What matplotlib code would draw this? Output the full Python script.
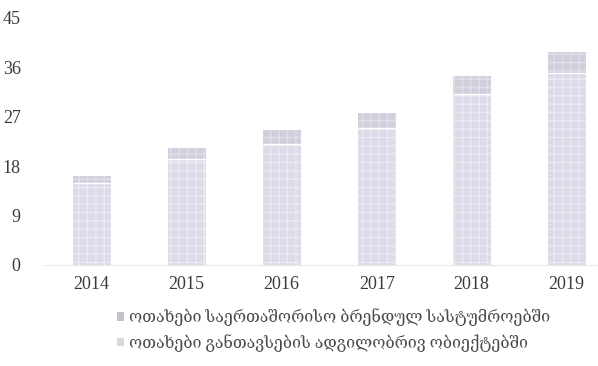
import matplotlib.pyplot as plt
from matplotlib.patches import Patch
import numpy as np

# data
years = ['2014', '2015', '2016', '2017', '2018', '2019']
local_rooms = [15.0, 19.3, 22.1, 24.9, 31.2, 35.0]
brand_rooms = [1.2, 2.0, 2.5, 2.8, 3.2, 3.8]
y_ticks = [0, 9, 18, 27, 36, 45]
label_brand = 'ოთახები საერთაშორისო ბრენდულ სასტუმროებში'
label_local = 'ოთახები განთავსების ადგილობრივ ობიექტებში'

serif = ['Liberation Serif', 'DejaVu Serif', 'DejaVu Sans']

fig = plt.figure(figsize=(5.98, 3.66), dpi=100)
ax = fig.add_axes([0.074, 0.276, 0.926, 0.675])

x = np.arange(len(years))
col_local = '#dcdbe9'
col_brand = '#d0cfdc'
ax.bar(x, local_rooms, width=0.4, color=col_local, edgecolor='#ebeaf3',
       hatch='++', linewidth=0)
ax.bar(x, brand_rooms, width=0.4, bottom=local_rooms, color=col_brand,
       edgecolor='#e0dfe9', hatch='++', linewidth=0)
# thin white gap between the two segments
ax.hlines(local_rooms, x - 0.2, x + 0.2, colors='white', linewidth=1.0)

ax.set_xlim(-0.5, 5.33)
ax.set_ylim(0, 45)
ax.set_yticks(y_ticks)
ax.set_xticks(x)
ax.set_xticklabels(years)
for sp in ['top', 'right', 'left']:
    ax.spines[sp].set_visible(False)
ax.spines['bottom'].set_color('#e8e8e8')
ax.tick_params(length=0, labelsize=13, labelcolor='#3a3a3a', pad=8)
for lab in ax.get_xticklabels() + ax.get_yticklabels():
    lab.set_family(serif)
ax.tick_params(axis='y', pad=17)

handles = [Patch(facecolor='#c2c2ca'), Patch(facecolor='#d8d8de')]
leg = fig.legend(handles, [label_brand, label_local], loc='upper left',
                 bbox_to_anchor=(0.195, 0.158), frameon=False,
                 handlelength=0.45, handleheight=0.45, handletextpad=0.35,
                 labelspacing=0.5, borderaxespad=0, borderpad=0,
                 prop={'family': serif, 'size': 11.5})
for t in leg.get_texts():
    t.set_color('#4a4a4a')

fig.savefig('out.png', dpi=100)
